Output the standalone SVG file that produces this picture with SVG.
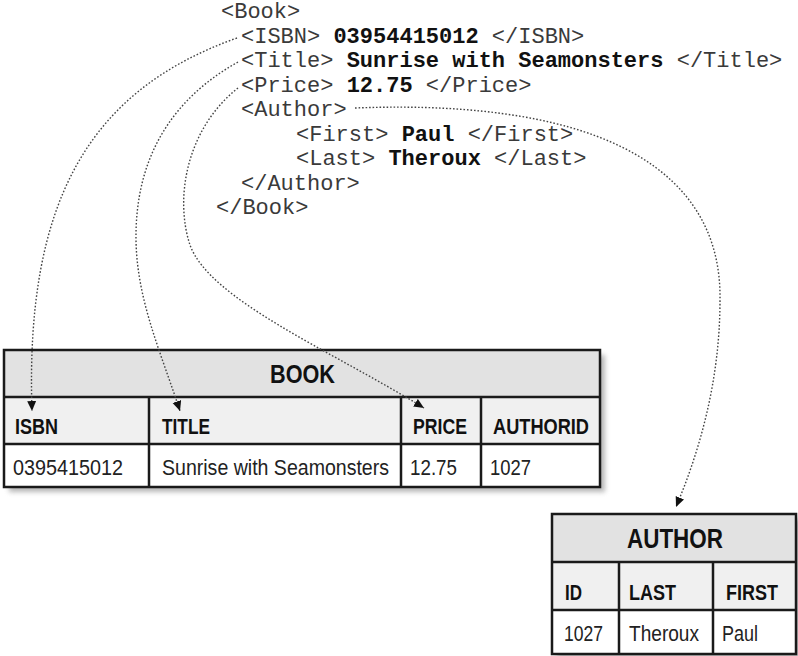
<svg xmlns="http://www.w3.org/2000/svg" width="798" height="656" viewBox="0 0 798 656">
<style>
.xml{font-family:"Liberation Mono","DejaVu Sans Mono",monospace;font-size:22px;fill:#3a3a3a}
.xml .v{font-weight:bold;fill:#111}
.hd{font-family:"Liberation Sans",Arial,sans-serif;font-weight:bold;fill:#111}
.cell{font-family:"Liberation Sans",Arial,sans-serif;font-size:22px;fill:#222}
.ln{stroke:#1a1a1a;stroke-width:2.5;fill:none}
.conn{fill:none;stroke:#444;stroke-width:1.4;stroke-dasharray:1.6 1.9}
</style>
<defs>
<marker id="ah" markerUnits="userSpaceOnUse" markerWidth="12" markerHeight="10" refX="10" refY="4.5" orient="auto">
<path d="M0,0 L10,4.5 L0,9 z" fill="#111"/>
</marker>
<filter id="sh" x="-10%" y="-10%" width="120%" height="130%">
<feGaussianBlur stdDeviation="2.5"/>
</filter>
</defs>
<rect width="798" height="656" fill="#fff"/>

<g id="xml-doc" class="xml">
<text x="221" y="18">&lt;Book&gt;</text>
<text x="241" y="42.5">&lt;ISBN&gt; <tspan class="v">03954415012</tspan> &lt;/ISBN&gt;</text>
<text x="241" y="67">&lt;Title&gt; <tspan class="v">Sunrise with Seamonsters</tspan> &lt;/Title&gt;</text>
<text x="241" y="91.5">&lt;Price&gt; <tspan class="v">12.75</tspan> &lt;/Price&gt;</text>
<text x="241" y="116">&lt;Author&gt;</text>
<text x="296" y="140.5">&lt;First&gt; <tspan class="v">Paul</tspan> &lt;/First&gt;</text>
<text x="296" y="165">&lt;Last&gt; <tspan class="v">Theroux</tspan> &lt;/Last&gt;</text>
<text x="241" y="189.5">&lt;/Author&gt;</text>
<text x="216" y="214">&lt;/Book&gt;</text>
</g>

<g id="book-table">
<rect x="9" y="355" width="596" height="137" fill="#888" opacity="0.6" filter="url(#sh)"/>
<rect x="4" y="350" width="596" height="47" fill="#e2e2e2"/>
<rect x="4" y="397" width="596" height="47" fill="#f0f0f0"/>
<rect x="4" y="444" width="596" height="43" fill="#fff"/>
<rect x="4" y="350" width="596" height="137" class="ln" stroke-width="3"/>
<path class="ln" d="M4,397 H600 M4,444 H600 M149,397 V487 M401,397 V487 M481,397 V487"/>
<text class="hd" x="270" y="383" font-size="25" textLength="65" lengthAdjust="spacingAndGlyphs">BOOK</text>
<text class="hd" x="15" y="434" font-size="22" textLength="43" lengthAdjust="spacingAndGlyphs">ISBN</text>
<text class="hd" x="162" y="434" font-size="22" textLength="48" lengthAdjust="spacingAndGlyphs">TITLE</text>
<text class="hd" x="413" y="434" font-size="22" textLength="54" lengthAdjust="spacingAndGlyphs">PRICE</text>
<text class="hd" x="493" y="434" font-size="22" textLength="96" lengthAdjust="spacingAndGlyphs">AUTHORID</text>
<text class="cell" x="13" y="475" textLength="110" lengthAdjust="spacingAndGlyphs">0395415012</text>
<text class="cell" x="162" y="475" textLength="227" lengthAdjust="spacingAndGlyphs">Sunrise with Seamonsters</text>
<text class="cell" x="410" y="475" textLength="47" lengthAdjust="spacingAndGlyphs">12.75</text>
<text class="cell" x="490" y="475" textLength="41" lengthAdjust="spacingAndGlyphs">1027</text>
</g>

<g id="author-table">
<rect x="557" y="519" width="245" height="140" fill="#888" opacity="0.6" filter="url(#sh)"/>
<rect x="552" y="514" width="245" height="48" fill="#e2e2e2"/>
<rect x="552" y="562" width="245" height="48" fill="#f0f0f0"/>
<rect x="552" y="610" width="245" height="44" fill="#fff"/>
<rect x="552" y="514" width="244" height="140" class="ln" stroke-width="3"/>
<path class="ln" d="M552,562 H796 M552,610 H796 M619,562 V654 M713,562 V654"/>
<text class="hd" x="627" y="548" font-size="27" textLength="96" lengthAdjust="spacingAndGlyphs">AUTHOR</text>
<text class="hd" x="565" y="600" font-size="22" textLength="17" lengthAdjust="spacingAndGlyphs">ID</text>
<text class="hd" x="629" y="600" font-size="22" textLength="47" lengthAdjust="spacingAndGlyphs">LAST</text>
<text class="hd" x="726" y="600" font-size="22" textLength="52" lengthAdjust="spacingAndGlyphs">FIRST</text>
<text class="cell" x="564" y="641" textLength="39" lengthAdjust="spacingAndGlyphs">1027</text>
<text class="cell" x="629" y="641" textLength="70" lengthAdjust="spacingAndGlyphs">Theroux</text>
<text class="cell" x="722" y="641" textLength="36" lengthAdjust="spacingAndGlyphs">Paul</text>
</g>

<g id="connectors">
<path class="conn" marker-end="url(#ah)" d="M237,38 C90,90 25,200 32,411"/>
<path class="conn" marker-end="url(#ah)" d="M238,62 C170,100 135,160 136,240 C137,300 160,350 180,411"/>
<path class="conn" marker-end="url(#ah)" d="M238,88 C185,130 175,200 190,245 C210,300 330,350 424,408"/>
<path class="conn" marker-end="url(#ah)" d="M355,108 C610,98 722,175 720,300 C720,380 700,450 676,507"/>
</g>
</svg>
